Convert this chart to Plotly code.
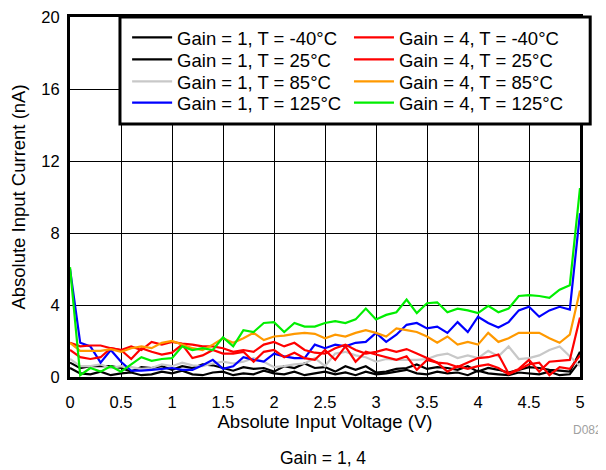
import plotly.graph_objects as go

voltage = [round(i * 0.1, 1) for i in range(51)]

g1_m40 = [0.8, 0.5, 0.6, 0.6, 0.6, 0.5, 0.3, 0.55, 0.5, 0.6, 0.4, 0.6, 0.5, 0.7, 0.65, 0.5, 0.35,
          0.55, 0.45, 0.5, 0.3, 0.6, 0.5, 0.75, 0.5, 0.55, 0.3, 0.6, 0.4, 0.6, 0.25, 0.3, 0.45,
          0.5, 0.7, 0.45, 0.55, 0.5, 0.4, 0.6, 0.3, 0.5, 0.4, 0.25, 0.4, 0.55, 0.5, 0.4, 0.35,
          0.3, 1.4]
g1_25 = [0.5, 0.2, 0.15, 0.3, 0.1, 0.2, 0.25, 0.1, 0.15, 0.3, 0.2, 0.35, 0.15, 0.1, 0.25, 0.3,
         0.1, 0.2, 0.15, 0.35, 0.2, 0.15, 0.3, 0.1, 0.2, 0.3, 0.15, 0.25, 0.1, 0.3, 0.15, 0.2,
         0.3, 0.4, 0.2, 0.15, 0.3, 0.2, 0.25, 0.1, 0.35, 0.2, 0.15, 0.1, 0.25, 0.2, 0.15, 0.3,
         0.1, 0.15, 0.9]
g1_85 = [1.0, 0.6, 0.6, 0.7, 0.5, 0.6, 0.55, 0.45, 0.5, 0.7, 0.6, 0.8, 0.65, 0.6, 0.75, 0.85,
         0.75, 0.85, 1.05, 0.85, 0.55, 0.6, 0.7, 0.75, 1.05, 0.6, 1.3, 1.4, 1.2, 1.1, 0.85, 1.0,
         0.95, 0.95, 0.95, 1.0, 1.2, 1.3, 1.05, 1.2, 1.05, 1.45, 1.15, 1.7, 1.0, 1.05, 1.2, 1.5,
         1.7, 1.15, 0.6]
g1_125 = [6.0, 1.9, 1.7, 0.8, 1.5, 0.85, 0.35, 0.35, 0.4, 0.45, 0.5, 0.4, 0.4, 0.65, 0.95, 0.45,
          0.6, 1.1, 0.95, 0.85, 1.3, 1.15, 1.05, 1.05, 1.8, 1.6, 1.8, 1.7, 1.9, 1.95, 2.45, 1.95,
          2.35, 2.9, 3.0, 2.7, 2.8, 2.45, 3.05, 2.5, 3.35, 3.0, 2.75, 3.05, 3.7, 3.9, 3.35, 3.7,
          3.9, 3.75, 9.1]
g4_m40 = [1.9, 1.7, 1.75, 1.75, 1.6, 1.5, 1.7, 1.5, 1.95, 1.8, 1.95, 1.85, 1.8, 1.7, 1.7, 1.6,
          1.4, 1.5, 1.4, 1.8, 1.95, 1.7, 1.9, 1.5, 1.35, 1.3, 1.6, 1.8, 1.5, 1.3, 1.4, 1.55, 1.4,
          1.55, 1.3, 1.05, 0.8, 0.75, 0.55, 0.8, 1.05, 1.1, 1.25, 0.2, 0.45, 0.95, 0.3, 0.85,
          0.9, 0.95, 3.3]
g4_25 = [1.5, 1.1, 1.0, 1.1, 1.6, 1.5, 1.0, 1.6, 1.4, 1.25, 1.35, 1.8, 1.05, 1.2, 1.5, 1.3, 1.3,
         1.4, 0.85, 1.4, 1.5, 1.1, 1.35, 1.05, 0.95, 1.5, 0.95, 1.7, 0.85, 1.4, 1.25, 1.1, 0.95,
         1.15, 0.4, 0.95, 0.8, 0.3, 0.6, 0.45, 0.6, 0.7, 0.5, 0.15, 0.4, 0.7, 0.8, 0.1, 0.55,
         0.45, 1.2]
g4_85 = [1.9, 1.45, 1.45, 1.45, 1.55, 1.4, 1.6, 1.7, 1.6, 1.9, 2.0, 1.8, 1.6, 1.5, 1.8, 2.15,
         1.9, 2.15, 2.45, 2.05, 2.25, 2.3, 2.4, 2.45, 2.4, 2.15, 2.35, 2.25, 2.45, 2.6, 2.45,
         2.25, 2.7, 2.6, 2.5, 2.25, 1.9, 2.25, 1.8, 1.95, 1.8, 2.45, 1.95, 2.15, 2.45, 2.45,
         2.45, 2.15, 1.9, 2.35, 4.8]
g4_125 = [6.1, 0.1, 0.5, 0.3, 0.6, 0.3, 0.7, 1.1, 0.9, 1.0, 1.05, 1.7, 1.5, 1.6, 1.5, 2.2, 1.7,
          2.6, 2.5, 3.0, 3.05, 2.5, 3.0, 2.8, 2.8, 3.0, 3.1, 3.0, 3.2, 3.8, 3.2, 3.45, 3.6, 4.3,
          3.55, 4.1, 4.15, 3.6, 3.8, 3.7, 3.55, 3.95, 3.6, 3.8, 4.5, 4.55, 4.5, 4.4, 4.85, 5.1,
          10.5]

x_ticks = [0, 0.5, 1, 1.5, 2, 2.5, 3, 3.5, 4, 4.5, 5]
x_tick_labels = ["0", "0.5", "1", "1.5", "2", "2.5", "3", "3.5", "4", "4.5", "5"]
y_ticks = [0, 4, 8, 12, 16, 20]

series_names = ["Gain = 1, T = -40°C", "Gain = 1, T = 25°C", "Gain = 1, T = 85°C",
                "Gain = 1, T = 125°C", "Gain = 4, T = -40°C", "Gain = 4, T = 25°C",
                "Gain = 4, T = 85°C", "Gain = 4, T = 125°C"]
series_values = [g1_m40, g1_25, g1_85, g1_125, g4_m40, g4_25, g4_85, g4_125]
series_colors = ["#000000", "#000000", "#c8c8c8", "#0000ff",
                 "#ff0000", "#ff0000", "#ff9900", "#00ee00"]

FONT = "Liberation Sans, Arial, sans-serif"

# legend placement (one legend per entry, two columns of four rows)
legend_col_x = [0.112, 0.547]
legend_row_y = [0.942, 0.881, 0.820, 0.761]

fig = go.Figure()
layout_legends = {}
for i, (name, vals, color) in enumerate(zip(series_names, series_values, series_colors)):
    key = "legend" if i == 0 else f"legend{i + 1}"
    fig.add_trace(go.Scatter(x=voltage, y=vals, mode="lines", name=name, showlegend=True,
                             line=dict(color=color, width=2.2), legend=key))
    col, row = divmod(i, 4)
    layout_legends[key] = dict(
        x=legend_col_x[col], y=legend_row_y[row], xanchor="left", yanchor="middle",
        font=dict(family=FONT, size=18.5, color="#000000"), visible=True,
        bgcolor="rgba(0,0,0,0)", borderwidth=0, itemwidth=40)

fig.update_layout(
    width=598, height=462,
    showlegend=True,
    margin=dict(l=62, r=26, t=9, b=93),
    paper_bgcolor="white", plot_bgcolor="white",
    font=dict(family=FONT, size=16, color="#000000"),
    xaxis=dict(range=[0, 5], tickvals=x_ticks, ticktext=x_tick_labels,
               showgrid=True, gridcolor="#000000", gridwidth=1,
               showline=True, linecolor="#000000", linewidth=3, mirror=True,
               zeroline=False, ticks="", ticklen=0, ticklabelstandoff=8,
               automargin=False, ticklabeloverflow="allow",
               tickfont=dict(family=FONT, size=16.5),
               title=dict(text="Absolute Input Voltage (V)", font=dict(family=FONT, size=18.5),
                          standoff=0)),
    yaxis=dict(range=[0, 20], tickvals=y_ticks,
               showgrid=True, gridcolor="#000000", gridwidth=1,
               showline=True, linecolor="#000000", linewidth=3, mirror=True,
               zeroline=False, ticks="", ticklen=0, ticklabelstandoff=4,
               automargin=False, ticklabeloverflow="allow",
               tickfont=dict(family=FONT, size=16.5),
               title=dict(text="Absolute Input Current (nA)", font=dict(family=FONT, size=18.5),
                          standoff=14)),
    shapes=[dict(type="rect", xref="paper", yref="paper", x0=0.098, x1=1.02, y0=0.703, y1=1.0,
                 fillcolor="white", line=dict(color="#000000", width=3), layer="above")],
    annotations=[
        dict(text="D082", xref="paper", yref="paper", x=1.047, y=-0.147, xanchor="right",
             yanchor="middle", showarrow=False, font=dict(family=FONT, size=12, color="#a0a0a0")),
        dict(text="Gain = 1, 4", xref="paper", yref="paper", x=0.496, y=-0.225,
             xanchor="center", yanchor="middle", showarrow=False,
             font=dict(family=FONT, size=17.5, color="#000000")),
    ],
    **layout_legends,
)

fig.write_html("out.html")
